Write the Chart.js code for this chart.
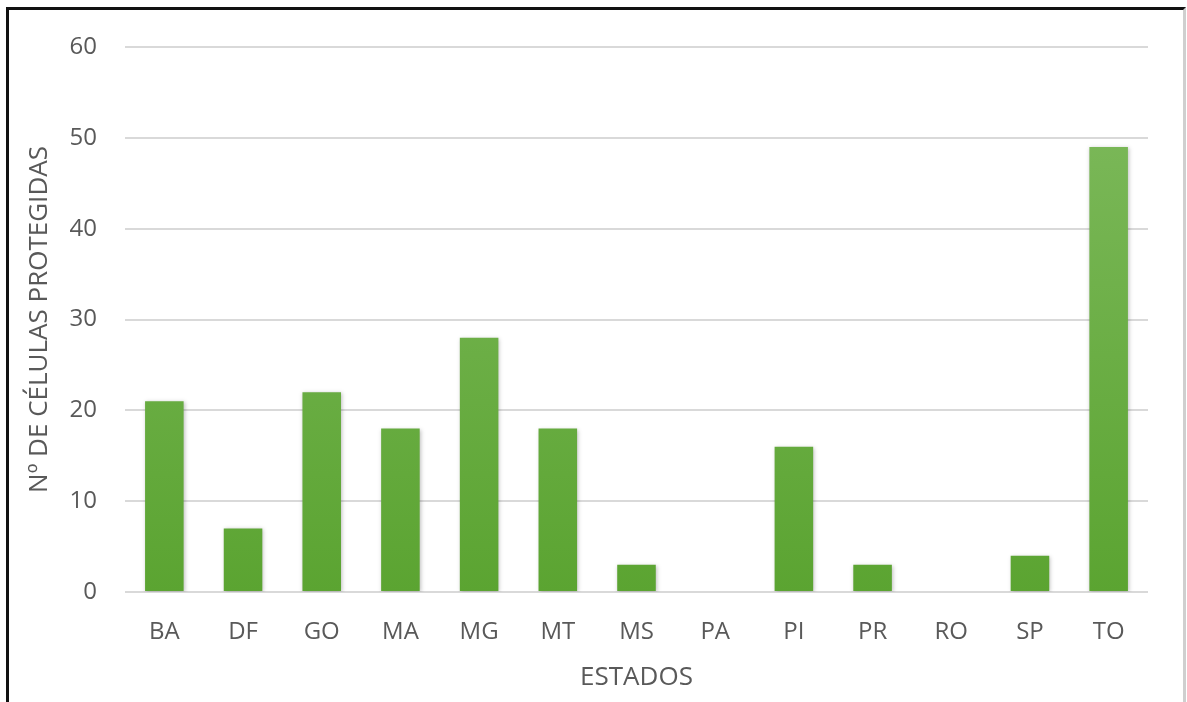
<!DOCTYPE html>
<html>
<head>
<meta charset="utf-8">
<script src="https://cdn.jsdelivr.net/npm/chart.js@4/dist/chart.umd.min.js"></script>
<style>
  html, body { margin: 0; padding: 0; background: #fff; }
  #wrap { position: relative; width: 1187px; height: 702px; overflow: hidden; }
  #frame {
    position: absolute; left: 6px; top: 7px; width: 1180px; height: 720px;
    border-top: 3px solid #111; border-left: 3px solid #111; border-right: 3px solid #cfcfcf;
    box-sizing: border-box;
  }
  canvas { position: absolute; left: 0; top: 0; }
</style>
</head>
<body>
<div id="wrap">
  <div id="frame"></div>
  <canvas id="chart" width="1187" height="702"></canvas>
</div>
<script>
// Protected cells per state
const estados = ['BA', 'DF', 'GO', 'MA', 'MG', 'MT', 'MS', 'PA', 'PI', 'PR', 'RO', 'SP', 'TO'];
const celulas = [21, 7, 22, 18, 28, 18, 3, 0, 16, 3, 0, 4, 49];
const yTicks = [0, 10, 20, 30, 40, 50, 60];

const textColor = '#595959';
const gridColor = '#d9d9d9';
const font = { family: "'Open Sans', sans-serif", size: 24 };
const titleFont = { family: "'Open Sans', sans-serif", size: 26 };

// vertical green gradient for the bars
const barFill = (context) => {
  const area = context.chart.chartArea;
  if (!area) return '#6aae42';
  const g = context.chart.ctx.createLinearGradient(0, area.top, 0, area.bottom);
  g.addColorStop(0, '#80bb5f');
  g.addColorStop(1, '#5ba431');
  return g;
};

// soft shadow behind the bars
const barShadow = {
  id: 'barShadow',
  beforeDatasetsDraw(chart) {
    const ctx = chart.ctx;
    ctx.save();
    ctx.shadowColor = 'rgba(0,0,0,0.25)';
    ctx.shadowBlur = 4;
    ctx.shadowOffsetX = 1;
    ctx.shadowOffsetY = 1;
  },
  afterDatasetsDraw(chart) {
    chart.ctx.restore();
  }
};

new Chart(document.getElementById('chart'), {
  type: 'bar',
  data: {
    labels: estados,
    datasets: [{
      data: celulas,
      backgroundColor: barFill,
      borderWidth: 0,
      categoryPercentage: 1,
      barPercentage: 0.49
    }]
  },
  plugins: [barShadow],
  options: {
    responsive: false,
    animation: false,
    layout: { padding: { left: 24, right: 39, top: 47, bottom: 0 } },
    plugins: { legend: { display: false }, tooltip: { enabled: false } },
    scales: {
      x: {
        grid: { display: false, drawTicks: false },
        border: { display: false },
        ticks: { color: textColor, font: font, padding: 26, maxRotation: 0 },
        title: { display: true, text: 'ESTADOS', color: textColor, font: titleFont, padding: { top: 0, bottom: 9 } },
        afterFit: (scale) => { scale.height = 110; }
      },
      y: {
        min: 0,
        max: 60,
        afterBuildTicks: (scale) => { scale.ticks = yTicks.map(v => ({ value: v })); },
        grid: { color: gridColor, lineWidth: 2, drawTicks: false },
        border: { display: false },
        ticks: { color: textColor, font: font, padding: 28 },
        title: { display: true, text: 'Nº DE CÉLULAS PROTEGIDAS', color: textColor, font: titleFont, padding: 0 },
        afterFit: (scale) => { scale.width = 101; }
      }
    }
  }
});
</script>
</body>
</html>
